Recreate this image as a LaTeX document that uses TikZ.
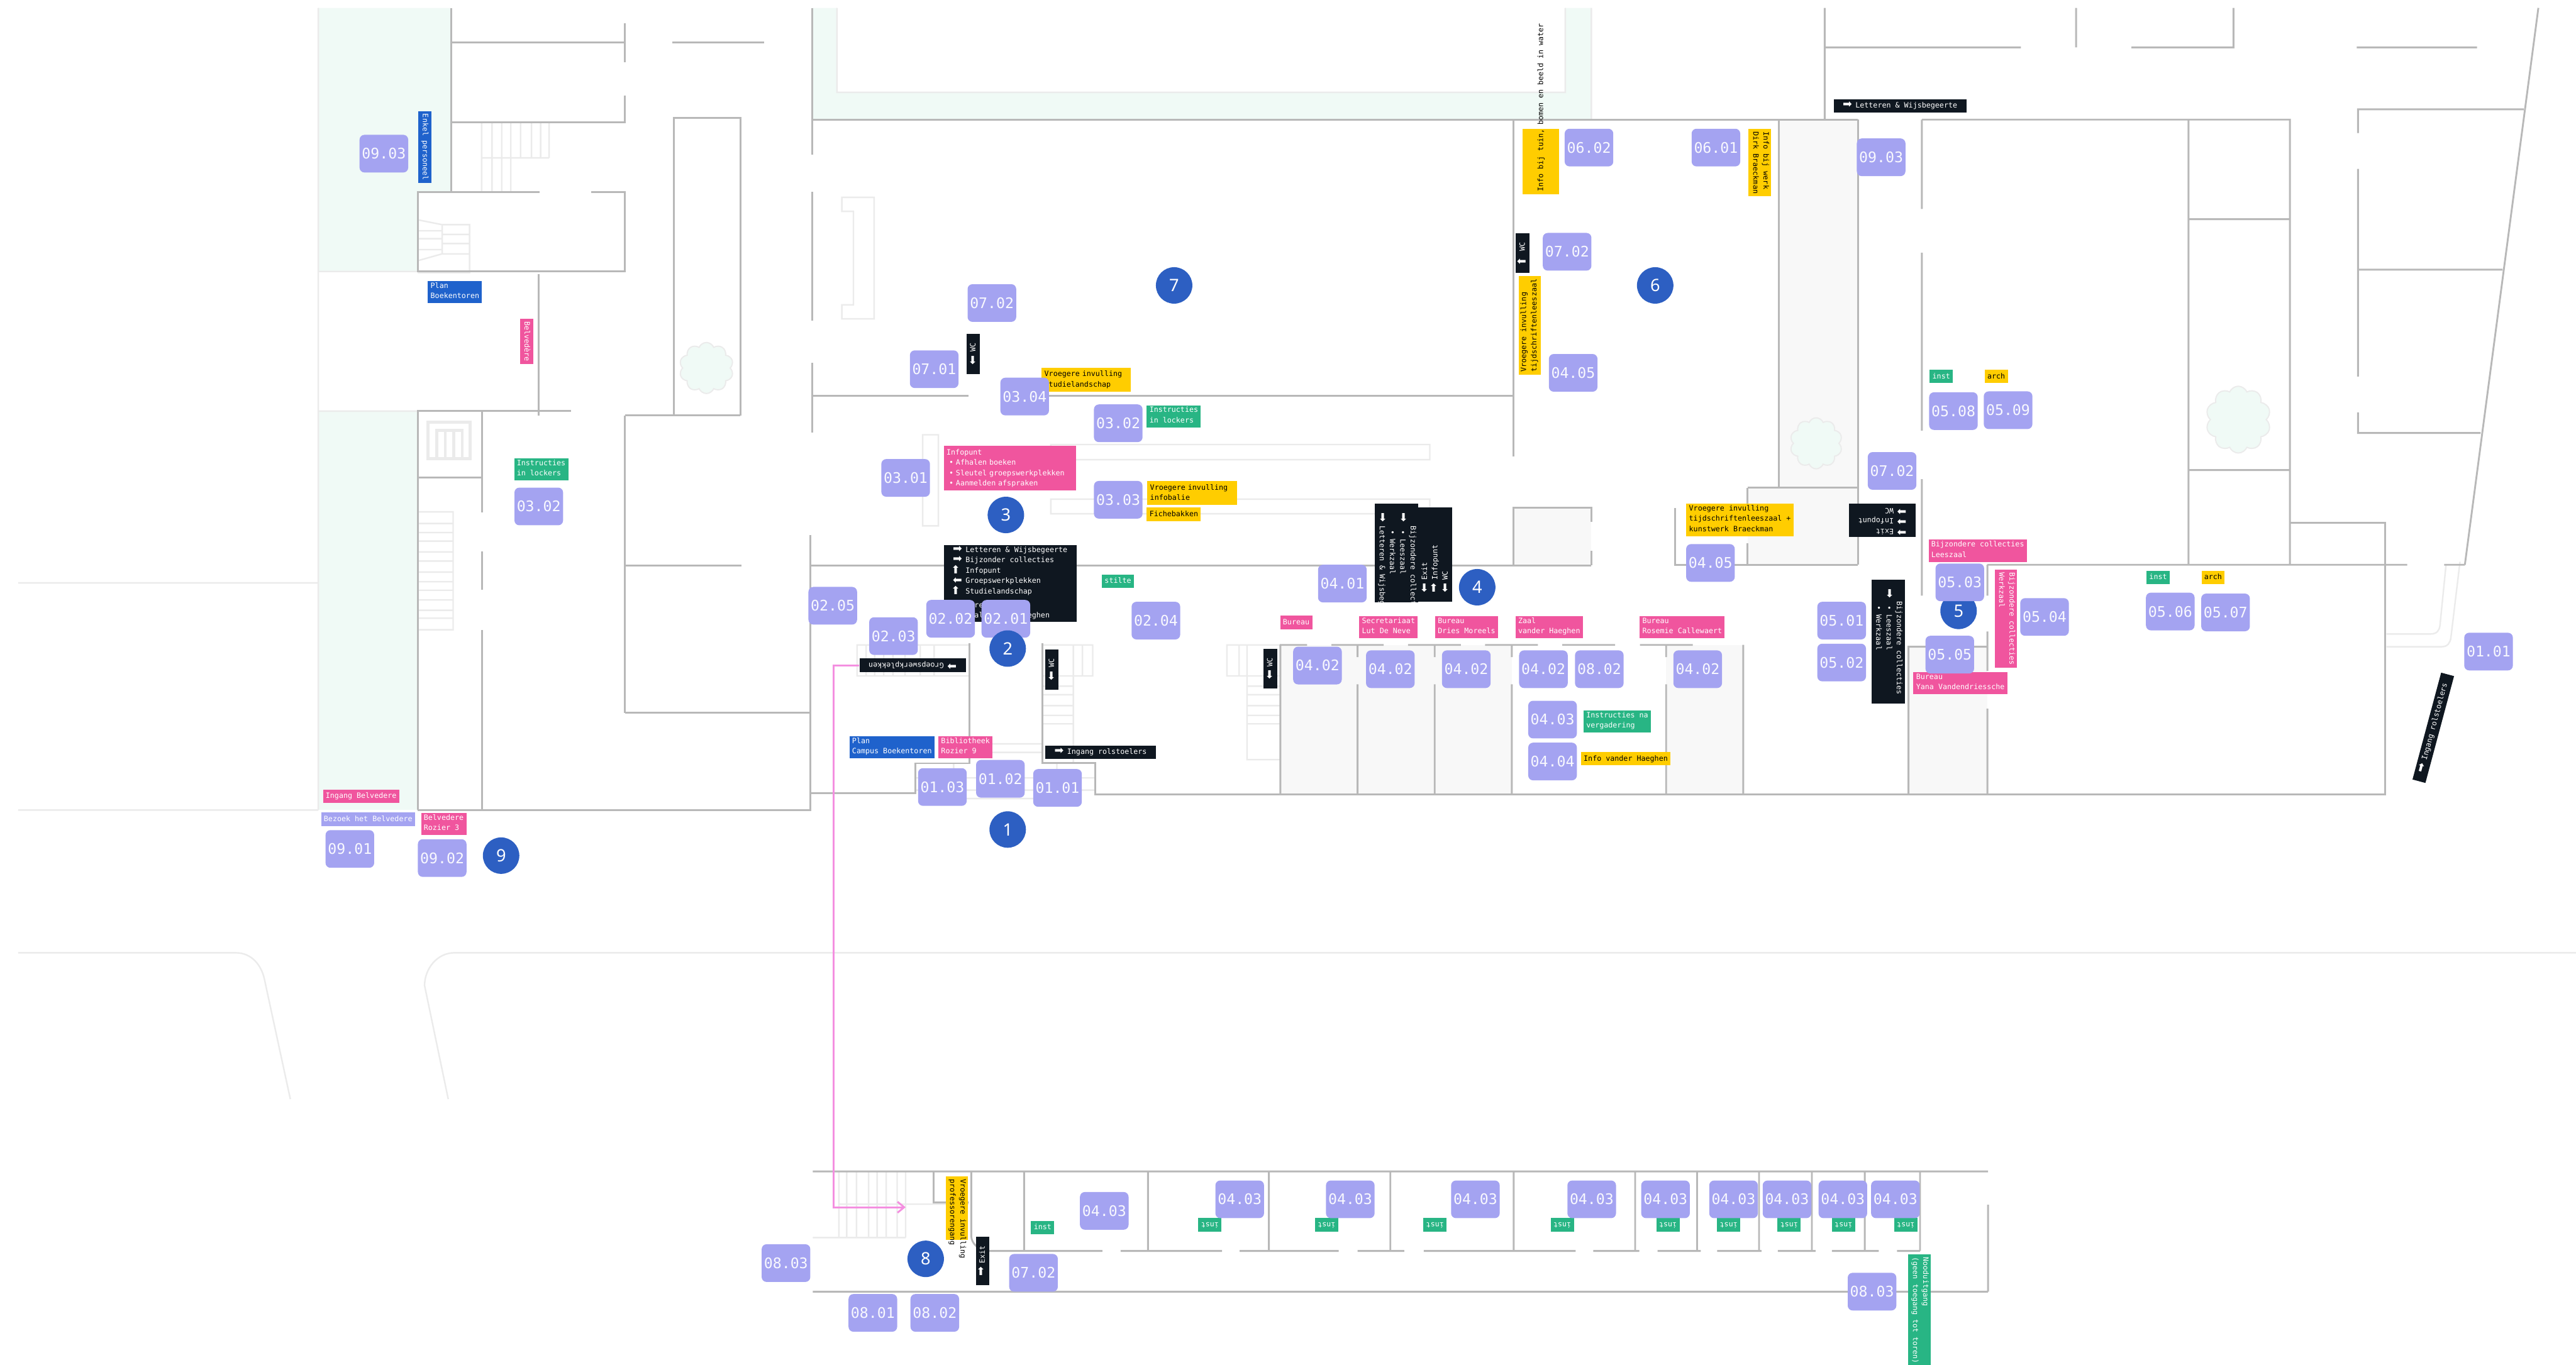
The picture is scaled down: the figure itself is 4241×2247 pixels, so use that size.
\documentclass[tikz,border=0pt]{standalone}
\usepackage{fontspec}
\setmonofont{DejaVu Sans Mono}
\newfontfamily\arrowfont{DejaVu Sans}
\newfontfamily\roundfont{Noto Sans}
\usetikzlibrary{arrows.meta,shapes.symbols}
\definecolor{wallgray}{HTML}{B8B8B8}
\definecolor{lightline}{HTML}{EBEBEB}
\definecolor{mint}{HTML}{F0FAF6}
\definecolor{roomgray}{HTML}{F8F8F8}
\definecolor{badgeblue}{HTML}{A4A3F1}
\definecolor{roundblue}{HTML}{2D5FC2}
\definecolor{labpink}{HTML}{F0559E}
\definecolor{labgreen}{HTML}{28B584}
\definecolor{labyellow}{HTML}{FFCD00}
\definecolor{labblue}{HTML}{1F62CC}
\definecolor{signblack}{HTML}{0F1720}
\definecolor{routepink}{HTML}{F48FE0}
\newcommand{\lblfont}{\fontsize{3.44}{4.84}\selectfont\ttfamily}
\newcommand{\badgefont}{\fontsize{6.83}{8}\selectfont\ttfamily}
\newcommand{\signarrow}[1]{\makebox[.21cm][l]{\rotatebox[origin=c]{#1}{\fontsize{5.2}{4.84}\selectfont\arrowfont ➡}}}

\begin{document}
\begin{tikzpicture}[x=.01cm,y=-.01cm,
    wall/.style={draw=wallgray,line width=.03cm},
    faint/.style={draw=lightline,line width=.025cm},
    badge/.style={fill=badgeblue,text=white!92!badgeblue,rounded corners=.08cm,minimum width=.8cm,minimum height=.62cm,inner sep=0pt,font=\badgefont},
    round/.style={circle,fill=roundblue,text=white,minimum size=.6cm,inner sep=0pt,font=\fontsize{8}{9}\selectfont\roundfont},
    lab/.style={font=\lblfont,align=left,inner xsep=.045cm,inner ysep=.025cm,execute at begin node=\strut,execute at end node=\strut},
    labp/.style={lab,fill=labpink,text=white},
    labg/.style={lab,fill=labgreen,text=white},
    laby/.style={lab,fill=labyellow,text=black},
    labb/.style={lab,fill=labblue,text=white},
    labl/.style={lab,fill=badgeblue,text=white},
    blacksign/.style={lab,fill=signblack,text=white,inner xsep=.15cm},
    tree/.style={cloud,cloud puffs=10,cloud puff arc=135,aspect=1,draw=lightline,fill=mint,line width=.02cm,inner sep=0pt}]
      \useasboundingbox (0,0) rectangle (4241,2247);

      \fill[mint] (524,13) -- (743,13) -- (743,316) -- (688,316) -- (688,447) -- (524,447) -- cycle;
      \fill[mint] (524,677) rectangle (688,1334);
      \fill[mint] (1337,13) -- (1378,13) -- (1378,152) -- (2577,152) -- (2577,13) -- (2620,13) -- (2620,197) -- (1337,197) -- cycle;
      \fill[roomgray] (2928,197) rectangle (3059,803);
      \fill[roomgray] (2877,803) rectangle (3059,930);
      \fill[roomgray] (2492,836) rectangle (2620,931);
      \fill[roomgray] (2108,1062) rectangle (2489,1309);
      \fill[roomgray] (2743,1062) rectangle (2870,1309);
      \fill[roomgray] (3142,1065) rectangle (3272,1309);

      \draw[faint]
      (524,13) -- (524,1334) (524,447) -- (688,447) (524,677) -- (688,677)
      (30,960) -- (524,960) (30,1334) -- (524,1334)
      (1378,13) -- (1378,152) -- (2577,152) -- (2577,13) (2620,13) -- (2620,197)
      (793,201) -- (793,316) (810,201) -- (810,316) (826,201) -- (826,316) (841,201) -- (841,316)
      (857,201) -- (857,260) (875,201) -- (875,260) (890,201) -- (890,260) (904,201) -- (904,260)
      (793,260) -- (904,260)
      (688,362) -- (728,370) -- (773,370) -- (773,449) -- (688,449) (728,370) -- (728,418)
      (728,386) -- (773,386) (728,401) -- (773,401) (728,418) -- (773,418)
      (688,380) -- (728,380) (688,393) -- (728,393) (688,411) -- (728,411) (689,429) -- (728,418)
      (688,843) -- (746,843) -- (746,1037) -- (688,1037)
      (688,862) -- (746,862) (688,877) -- (746,877) (688,891) -- (746,891) (688,909) -- (746,909)
      (688,924) -- (746,924) (688,942) -- (746,942) (688,958) -- (746,958) (688,972) -- (746,972)
      (688,988) -- (746,988) (688,1005) -- (746,1005) (688,1018) -- (746,1018);
      \draw[faint]
      (1386,325) -- (1439,325) -- (1439,525) -- (1386,525) -- (1386,502) -- (1405,502) -- (1405,348) -- (1386,348) -- cycle
      (1519,716) rectangle (1545,866)
      (1730,732) rectangle (2354,757)
      (1730,822) rectangle (2354,846)
      (1411,1062) rectangle (1596,1113)
      (1426,1062) -- (1426,1113) (1440,1062) -- (1440,1113) (1455,1062) -- (1455,1113) (1470,1062) -- (1470,1113)
      (1490,1062) -- (1490,1113) (1515,1062) -- (1515,1113) (1538,1062) -- (1538,1113)
      (1716,1062) rectangle (1799,1113) (1767,1062) -- (1767,1256) (1782,1062) -- (1782,1113)
      (1716,1130) -- (1767,1130) (1716,1144) -- (1767,1144) (1716,1162) -- (1767,1162)
      (1716,1178) -- (1767,1178) (1716,1192) -- (1767,1192)
      (1632,1225) -- (1716,1225) (1632,1239) -- (1716,1239)
      (1507,1281) -- (1803,1281) (1507,1301) -- (1803,1301) (1570,1315) -- (1740,1315)
      (1570,1257) -- (1570,1315) (1740,1256) -- (1740,1315)
      (2020,1062) rectangle (2108,1113) (2040,1062) -- (2040,1113) (2053,1062) -- (2053,1251) -- (2108,1251)
      (2053,1130) -- (2108,1130) (2053,1144) -- (2108,1144) (2053,1162) -- (2108,1162)
      (2053,1178) -- (2108,1178) (2053,1192) -- (2108,1192)
      (1338,2038) -- (1491,2038) (1381,1983) -- (1595,1983)
      (1381,1929) -- (1381,2038) (1394,1929) -- (1394,2038) (1410,1929) -- (1410,2038) (1430,1929) -- (1430,2038)
      (1444,1929) -- (1444,2038) (1459,1929) -- (1459,2038) (1477,1929) -- (1477,2038) (1491,1929) -- (1491,2038)
      (3929,1044) -- (4002,1044) .. controls (4012,1044) and (4016,1038) .. (4017,1030) -- (4027,930)
      (3929,1065) -- (4020,1065) .. controls (4030,1065) and (4034,1058) .. (4035,1050) -- (4050,925)
      (30,1569) -- (388,1569) .. controls (415,1569) and (430,1590) .. (435,1611) -- (478,1810)
      (4241,1569) -- (748,1569) .. controls (720,1569) and (699,1595) .. (699,1623) -- (738,1810);
      \draw[faint,line width=.05cm]
      (705,695) rectangle (774,755) (719,755) -- (719,709) -- (761,709) -- (761,755)
      (733,709) -- (733,755) (747,709) -- (747,755);

      \draw[wall]
      (743,13) -- (743,316) (743,70) -- (1029,70) (1029,38) -- (1029,103) (1107,70) -- (1258,70)
      (1029,157) -- (1029,201) -- (743,201)
      (888,316) -- (688,316) -- (688,447) -- (1029,447) -- (1029,316) -- (973,316)
      (887,451) -- (887,684) (940,677) -- (688,677) -- (688,1334) (688,786) -- (794,786)
      (794,677) -- (794,844) (794,908) -- (794,971) (794,1037) -- (794,1334)
      (1029,684) -- (1029,1174) (1029,684) -- (1219,684) (1109,684) -- (1109,194) -- (1219,194) -- (1219,684)
      (1029,931) -- (1221,931) (1029,1174) -- (1334,1174)
      (1334,881) -- (1334,1334) -- (688,1334)
      (1337,13) -- (1337,255) (1337,316) -- (1337,528) (1337,597) -- (1337,712)
      (1336,652) -- (1595,652) (1726,652) -- (2492,652)
      (1337,197) -- (3059,197) (2492,197) -- (2492,752) (2929,197) -- (2929,803)
      (3059,197) -- (3059,930) (2877,803) -- (3059,803) (2877,803) -- (2877,830) (2877,895) -- (2877,930)
      (2758,837) -- (2758,930) -- (3059,930)
      (1334,931) -- (2620,931) (2492,931) -- (2492,836) -- (2620,836) -- (2620,859) (2620,907) -- (2620,931)
      (1334,1306) -- (1507,1306) -- (1507,1257) -- (1596,1257) -- (1596,1059)
      (1716,1059) -- (1716,1256) -- (1803,1256) -- (1803,1308) -- (3927,1308) -- (3927,861) -- (3770,861);
      \draw[wall]
      (2107,1062) -- (2152,1062) (2192,1062) -- (2278,1062) (2318,1062) -- (2405,1062) (2445,1062) -- (2532,1062)
      (2572,1062) -- (2659,1062) (2700,1062) -- (2787,1062)
      (2108,1062) -- (2108,1308) (2870,1062) -- (2870,1308)
      (2235,1062) -- (2235,1082) (2235,1127) -- (2235,1308)
      (2362,1062) -- (2362,1082) (2362,1127) -- (2362,1308)
      (2489,1062) -- (2489,1082) (2489,1127) -- (2489,1308)
      (2743,1062) -- (2743,1082) (2743,1127) -- (2743,1308)
      (3142,1308) -- (3142,1065) -- (3272,1065)
      (3272,930) -- (3272,981) (3272,1040) -- (3272,1105) (3272,1167) -- (3272,1308)
      (3004,13) -- (3004,197) (3004,78) -- (3327,78) (3418,13) -- (3418,78)
      (3509,78) -- (3677,78) -- (3677,13) (3880,78) -- (4078,78)
      (3164,197) -- (3164,344) (3164,416) -- (3164,709) (3164,789) -- (3164,981)
      (3164,197) -- (3770,197) -- (3770,930) (3603,197) -- (3603,930) (3603,361) -- (3770,361) (3603,774) -- (3770,774)
      (3272,930) -- (3963,930) (4024,930) -- (4058,930)
      (4155,180) -- (3882,180) -- (3882,219) (3882,278) -- (3882,620) (3882,679) -- (3882,713) -- (4084,713)
      (3882,444) -- (4120,444)
      (4179,13) -- (4058,930);
      \draw[wall]
      (1338,1929) -- (3273,1929) (1338,2127) -- (3273,2127) (3273,1984) -- (3273,2127)
      (1629,2060) -- (1815,2060) (1845,2060) -- (2012,2060) (2041,2060) -- (2204,2060) (2235,2060) -- (2312,2060)
      (2344,2060) -- (2594,2060) (2623,2060) -- (2699,2060) (2729,2060) -- (2800,2060) (2827,2060) -- (2900,2060)
      (2927,2060) -- (2989,2060) (3016,2060) -- (3093,2060) (3123,2060) -- (3161,2060)
      (1686,1929) -- (1686,2060) (1890,1929) -- (1890,2060) (2089,1929) -- (2089,2060) (2289,1929) -- (2289,2060)
      (2492,1929) -- (2492,2060) (2692,1929) -- (2692,2060) (2794,1929) -- (2794,2060) (2896,1929) -- (2896,2060)
      (2983,1929) -- (2983,2060) (3070,1929) -- (3070,2060) (3161,1929) -- (3161,2060)
      (1599,1929) -- (1599,2035) .. controls (1599,2048) and (1612,2060) .. (1629,2060)
      (1537,1929) -- (1537,1980) -- (1595,1980);

      \node (tree1) at (1163,606) [tree,minimum width=.89cm,minimum height=.84cm] {};
      \node (tree2) at (2990,730) [tree,minimum width=.86cm,minimum height=.84cm] {};
      \node (tree3) at (3685,691) [tree,minimum width=1.07cm,minimum height=1.1cm] {};

      \node (groeps) at (1502.5,1095.5) [blacksign,rotate=180] {\signarrow{0}Groepswerkplekken};
      \coordinate (pk1) at (1372,1095.5);
      \coordinate (pk2) at (1372,1988);
      \coordinate (pk3) at (1491,1988);
      \draw[routepink,line width=.03cm,-{Straight Barb[length=.11cm,width=.18cm]}] (groeps.east) -- (pk1) -- (pk2) -- (pk3);

      \node (enkel) at (699.5,242) [labb,rotate=-90] {Enkel personeel};
      \node (planb) at (749,481) [labb] {Plan\\Boekentoren};
      \node (belv) at (867,562) [labp,rotate=-90] {Belvedère};
      \node (lock1) at (891,773) [labg] {Instructies\\in lockers};
      \node (ingb) at (594.5,1311) [labp] {Ingang Belvedere};
      \node (bezoek) at (606,1349) [labl] {Bezoek het Belvedere};
      \node (roz3) at (730.5,1357) [labp] {Belvedere\\Rozier 3};

      \node (wc1) at (1602.5,583) [blacksign,rotate=90] {\signarrow{180}WC};
      \node (studie) at (1788.5,625) [laby,text width=1.38cm] {Vroegere invulling\\Studielandschap};
      \node (lock2) at (1932.5,685.5) [labg] {Instructies\\in lockers};
      \node (infop) at (1663,771) [labp,text width=2.09cm] {Infopunt\\~• Afhalen boeken\\~• Sleutel groepswerkplekken\\~• Aanmelden afspraken};
      \node (infob) at (1963,812) [laby,text width=1.39cm] {Vroegere invulling\\infobalie};
      \node (fiche) at (1932.5,847) [laby] {Fichebakken};
      \node (main) at (1663,961) [blacksign,inner ysep=.012cm] {\signarrow{0}Letteren \& Wijsbegeerte\\\signarrow{0}Bijzonder collecties\\\signarrow{90}Infopunt\\\signarrow{180}Groepswerkplekken\\\signarrow{90}Studielandschap\\[.06cm]\signarrow{0}Bureaus\\\signarrow{0}Zaal vander Haeghen};
      \node (stilte) at (1840.5,957) [labg] {stilte};
      \node (planc) at (1468.5,1230.5) [labb] {Plan\\Campus Boekentoren};
      \node (roz9) at (1589.5,1230.5) [labp] {Bibliotheek\\Rozier 9};
      \node (rol1) at (1812,1239) [blacksign] {\signarrow{0}Ingang rolstoelers};
      \node (wc2) at (1732,1102.5) [blacksign,rotate=90] {\signarrow{180}WC};
      \node (wc3) at (2091.5,1101) [blacksign,rotate=90] {\signarrow{180}WC};

      \begin{scope}
      \clip (2260,830) rectangle (2340,991);
      \node (sign4a) at (2299.5,939) [blacksign,rotate=-90] {\phantom{\signarrow{0}}Bijzondere collecties\\\signarrow{0}~• Leeszaal\\\phantom{\signarrow{0}}~• Werkzaal\\\signarrow{0}Letteren \& Wijsbegeerte};
      \end{scope}
      \node (sign4b) at (2363,913.5) [blacksign,rotate=90,text width=1.25cm] {\signarrow{180}Exit\\\signarrow{0}Infopunt\\\signarrow{180}WC};

      \node (bur1) at (2134,1025) [labp] {Bureau};
      \node (bur2) at (2286,1033) [labp] {Secretariaat\\Lut De Neve};
      \node (bur3) at (2414.5,1033) [labp] {Bureau\\Dries Moreels};
      \node (bur4) at (2550.5,1033) [labp] {Zaal\\vander Haeghen};
      \node (bur5) at (2769.5,1033) [labp] {Bureau\\Rosemie Callewaert};
      \node (verg) at (2662.5,1188) [labg] {Instructies na\\vergadering};
      \node (vdh) at (2676.5,1249.5) [laby] {Info vander Haeghen};
      \node (kunst) at (2864.5,856) [laby] {Vroegere invulling\\tijdschriftenleeszaal +\\kunstwerk Braeckman};
      \node (sign5a) at (3099,856.5) [blacksign,rotate=180] {\signarrow{0}Exit\\\signarrow{0}Infopunt\\\signarrow{0}WC};
      \node (lees) at (3256,907) [labp] {Bijzondere collecties\\Leeszaal};
      \node (werk) at (3302,1019) [labp,rotate=-90] {Bijzondere collecties\\Werkzaal};
      \node (yana) at (3227.5,1125) [labp] {Bureau\\Yana Vandendriessche};
      \node (sign5b) at (3108.5,1056.5) [blacksign,rotate=-90] {\phantom{\signarrow{0}}Bijzondere collecties\\\signarrow{0}~• Leeszaal\\\phantom{\signarrow{0}}~• Werkzaal};
      \node (inst1) at (3196,620) [labg] {inst};
      \node (arch1) at (3286.5,620) [laby] {arch};
      \node (inst2) at (3553,951) [labg] {inst};
      \node (arch2) at (3643.5,951) [laby] {arch};
      \node (letter) at (3128,174.5) [blacksign] {\signarrow{0}Letteren \& Wijsbegeerte};
      \node (tuin) at (2537,266) [laby,rotate=90,minimum width=1.07cm,minimum height=.6cm] {\makebox[.98cm][l]{Info bij tuin, bomen en beeld in water}};
      \node (dirk) at (2897,268) [laby,rotate=-90] {Info bij werk\\Dirk Braeckman};
      \node (tijd) at (2519,536) [laby,rotate=90] {Vroegere invulling\\tijdschriftenleeszaal};
      \node (wc4) at (2506.5,417) [blacksign,rotate=90] {\signarrow{90}WC};
      \node (rol2) at (4006,1198.5) [blacksign,rotate=75] {\signarrow{0}Ingang rolstoelers};

      \node (prof) at (1575,1989.5) [laby,rotate=-90] {\makebox[.96cm][l]{Vroegere invulling}\\\makebox[.96cm][l]{professorengang}};
      \node (exit) at (1618,2076.5) [blacksign,rotate=90] {\signarrow{0}Exit};
      \node (inst3) at (1716.5,2021.5) [labg] {inst};
      \node (inst4) at (1992,2017) [labg,rotate=180] {inst};
      \node (inst5) at (2184,2017) [labg,rotate=180] {inst};
      \node (inst6) at (2362.5,2017) [labg,rotate=180] {inst};
      \node (inst7) at (2572,2017) [labg,rotate=180] {inst};
      \node (inst8) at (2746,2017) [labg,rotate=180] {inst};
      \node (inst9) at (2846,2017) [labg,rotate=180] {inst};
      \node (inst10) at (2945.5,2017) [labg,rotate=180] {inst};
      \node (inst11) at (3035,2017) [labg,rotate=180] {inst};
      \node (inst12) at (3137.5,2017) [labg,rotate=180] {inst};
      \node (nood) at (3160,2158) [labg,rotate=-90] {Nooduitgang\\(geen toegang tot toren)};

      \node (r5) at (3224.5,1006) [round] {5};
      \node (b0903a) at (632,253) [badge] {09.03};
      \node (b0302a) at (887,834) [badge] {03.02};
      \node (b0901) at (576,1398) [badge] {09.01};
      \node (b0902) at (728,1413) [badge] {09.02};
      \node (b0702a) at (1633,499) [badge] {07.02};
      \node (b0701) at (1538,608) [badge] {07.01};
      \node (b0304) at (1687,653) [badge] {03.04};
      \node (b0302b) at (1841,697) [badge] {03.02};
      \node (b0301) at (1491,787) [badge] {03.01};
      \node (b0303) at (1841,823) [badge] {03.03};
      \node (b0205) at (1371,997.5) [badge] {02.05};
      \node (b0203) at (1471,1047.5) [badge] {02.03};
      \node (b0202) at (1565,1019) [badge] {02.02};
      \node (b0201) at (1656,1019) [badge] {02.01};
      \node (b0204) at (1903,1022) [badge] {02.04};
      \node (b0103) at (1551.5,1296) [badge] {01.03};
      \node (b0102) at (1647,1282.5) [badge] {01.02};
      \node (b0101a) at (1741,1297.5) [badge] {01.01};
      \node (b0401) at (2210,961) [badge] {04.01};
      \node (b0402a) at (2169,1096) [badge] {04.02};
      \node (b0402b) at (2289,1102) [badge] {04.02};
      \node (b0402c) at (2414,1102) [badge] {04.02};
      \node (b0402d) at (2541,1102) [badge] {04.02};
      \node (b0802a) at (2633,1102) [badge] {08.02};
      \node (b0402e) at (2795,1102) [badge] {04.02};
      \node (b0403a) at (2556,1185) [badge] {04.03};
      \node (b0404) at (2556,1254) [badge] {04.04};
      \node (b0405a) at (2816,927) [badge] {04.05};
      \node (b0405b) at (2590,614) [badge] {04.05};
      \node (b0602) at (2616,243) [badge] {06.02};
      \node (b0601) at (2825,243) [badge] {06.01};
      \node (b0702b) at (2580,414.6) [badge] {07.02};
      \node (b0903b) at (3097,259) [badge] {09.03};
      \node (b0508) at (3216,677) [badge] {05.08};
      \node (b0509) at (3306,675.5) [badge] {05.09};
      \node (b0702c) at (3115,775.5) [badge] {07.02};
      \node (b0503) at (3226.5,959) [badge] {05.03};
      \node (b0501) at (3032,1022) [badge] {05.01};
      \node (b0502) at (3032,1091) [badge] {05.02};
      \node (b0505) at (3210,1078) [badge] {05.05};
      \node (b0504) at (3366,1016) [badge] {05.04};
      \node (b0506) at (3573,1007) [badge] {05.06};
      \node (b0507) at (3664,1008.5) [badge] {05.07};
      \node (b0101b) at (4097,1073) [badge] {01.01};
      \node (b0803a) at (1294,2080) [badge] {08.03};
      \node (b0801) at (1437,2162) [badge] {08.01};
      \node (b0802b) at (1539,2162) [badge] {08.02};
      \node (b0702d) at (1701.5,2096) [badge] {07.02};
      \node (b0403b) at (1818,1994) [badge] {04.03};
      \node (b0403c) at (2041,1975) [badge] {04.03};
      \node (b0403d) at (2223,1975) [badge] {04.03};
      \node (b0403e) at (2429,1975) [badge] {04.03};
      \node (b0403f) at (2620.5,1975) [badge] {04.03};
      \node (b0403g) at (2742,1975) [badge] {04.03};
      \node (b0403h) at (2854,1975) [badge] {04.03};
      \node (b0403i) at (2942,1975) [badge] {04.03};
      \node (b0403j) at (3034,1975) [badge] {04.03};
      \node (b0403k) at (3120.5,1975) [badge] {04.03};
      \node (b0803b) at (3082,2127) [badge] {08.03};

      \node (r1) at (1659,1366) [round] {1};
      \node (r2) at (1659,1068) [round] {2};
      \node (r3) at (1656,848) [round] {3};
      \node (r4) at (2432,967) [round] {4};
      \node (r6) at (2725,470) [round] {6};
      \node (r7) at (1933,470) [round] {7};
      \node (r8) at (1524,2073) [round] {8};
      \node (r9) at (825,1409) [round] {9};
\end{tikzpicture}
\end{document}
